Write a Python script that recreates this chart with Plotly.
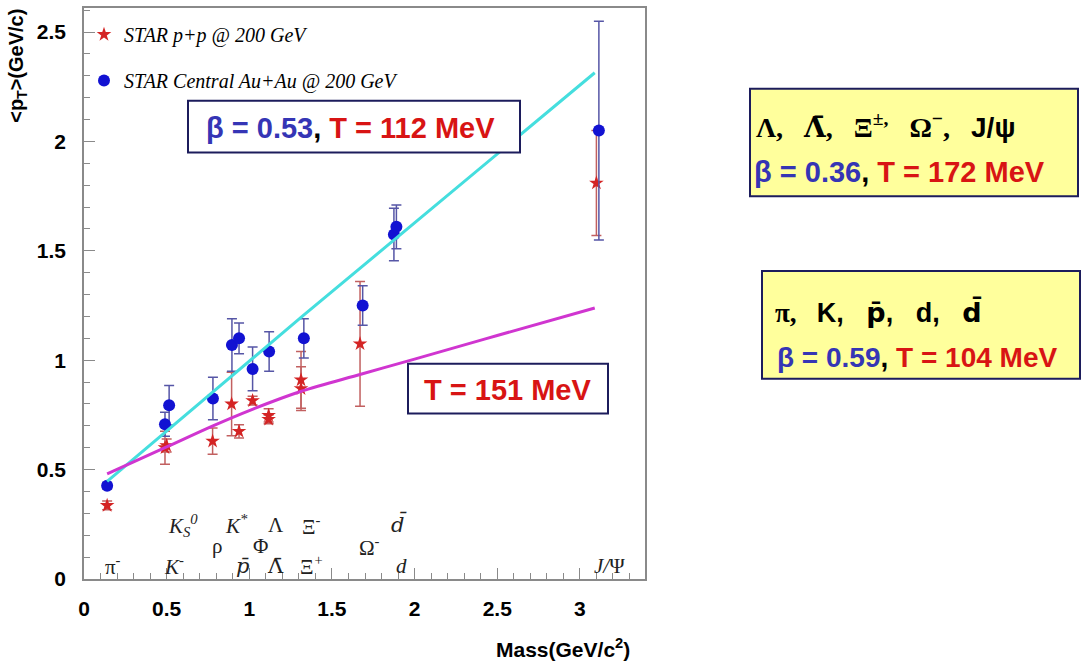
import plotly.graph_objects as go

# ---------------- data ----------------
# STAR central Au+Au @ 200 GeV  (blue dots)
aa_mass = [0.14, 0.49, 0.515, 0.78, 0.895, 0.938, 1.02, 1.12, 1.33, 1.686, 1.875, 1.89, 3.115]
aa_pt   = [0.426, 0.707, 0.794, 0.825, 1.07, 1.10, 0.96, 1.04, 1.10, 1.25, 1.575, 1.61, 2.05]
aa_err  = [0.015, 0.055, 0.09, 0.097, 0.12, 0.07, 0.10, 0.09, 0.09, 0.09, 0.12, 0.10, 0.50]

# STAR p+p @ 200 GeV  (red stars)
pp_mass = [0.14, 0.49, 0.50, 0.778, 0.893, 0.938, 1.02, 1.117, 1.117, 1.313, 1.313, 1.67, 3.10]
pp_pt   = [0.336, 0.60, 0.61, 0.63, 0.80, 0.675, 0.815, 0.748, 0.73, 0.91, 0.87, 1.075, 1.81]
pp_err  = [0.02, 0.075, 0.03, 0.06, 0.145, 0.03, 0.02, 0.03, 0.02, 0.13, 0.10, 0.285, 0.24]

# blast-wave curves
cyan_mass = [0.14, 1.32, 3.09]
cyan_pt   = [0.446, 1.20, 2.314]
mag_mass  = [0.14, 0.49, 0.78, 1.0, 1.31, 1.68, 2.0, 2.5, 3.09]
mag_pt    = [0.48, 0.60, 0.70, 0.77, 0.857, 0.937, 1.005, 1.113, 1.239]

# particle labels along the bottom (mass position, height, label)
UP = "<span style='font-style:normal'>{}</span>"
DJI = "<span style='font-family:DejaVu Serif'>{}</span>"
DJU = "<span style='font-family:DejaVu Serif;font-style:normal'>{}</span>"
lab_x    = [0.175, 0.545, 0.60, 0.805, 0.92, 0.96, 1.07, 1.16, 1.16, 1.375, 1.375, 1.725, 1.905, 1.92, 3.18]
lab_y    = [0.06, 0.06, 0.245, 0.15, 0.25, 0.06, 0.15, 0.245, 0.06, 0.245, 0.06, 0.15, 0.25, 0.06, 0.06]
lab_text = [UP.format("π") + "<sup>-</sup>", "K<sup>-</sup>", "K<sub>S</sub><sup>0</sup>", UP.format("ρ"),
            "K<sup>*</sup>", DJI.format("p\u0304"), UP.format("Φ"), UP.format("Λ"), DJU.format("Λ\u0304"),
            UP.format("Ξ") + "<sup>-</sup>", UP.format("Ξ") + "<sup>+</sup>", UP.format("Ω") + "<sup>-</sup>",
            DJI.format("d\u0304"), "d", "J/" + UP.format("Ψ")]

x_ticks = [0, 0.5, 1, 1.5, 2, 2.5, 3]
x_tick_text = ["0", "0.5", "1", "1.5", "2", "2.5", "3"]
y_ticks = [0, 0.5, 1, 1.5, 2, 2.5]
y_tick_text = ["0", "0.5", "1", "1.5", "2", "2.5"]

# ---------------- layout helpers ----------------
W, H = 1082, 664
L, R, T, B = 84, 645, 6, 579


def px(x):
    return (x - L) / (R - L)


def py(y):
    return (B - y) / (B - T)


BLUE_TXT = "#3535b5"
RED_TXT = "#d81414"
NAVY = "#1c1c5c"
AX = "#8a8a8a"

fig = go.Figure()

fig.add_trace(go.Scatter(
    x=pp_mass, y=pp_pt, mode="markers", name="STAR p+p @ 200 GeV", legendgroup="pp",
    marker=dict(symbol="star", size=11, color="#d42424"),
    error_y=dict(type="data", array=pp_err, color="#c26060", thickness=1.5, width=5)))
fig.add_trace(go.Scatter(
    x=aa_mass, y=aa_pt, mode="markers", name="STAR Central Au+Au @ 200 GeV", legendgroup="aa",
    marker=dict(symbol="circle", size=12, color="#1212d2"),
    error_y=dict(type="data", array=aa_err, color="#5656a6", thickness=1.5, width=5)))
fig.add_trace(go.Scatter(x=cyan_mass, y=cyan_pt, mode="lines", showlegend=False,
                         line=dict(color="#45dede", width=3)))
fig.add_trace(go.Scatter(x=mag_mass, y=mag_pt, mode="lines", showlegend=False,
                         line=dict(color="#d035d0", width=3, shape="spline")))

tickfont = dict(family="Liberation Sans", size=21, color="black", weight="bold")
fig.update_xaxes(range=[0, 3.394], tickmode="array", tickvals=x_ticks, ticktext=x_tick_text,
                 ticks="inside", ticklen=11, tickcolor=AX, tickwidth=1,
                 showline=True, linecolor=AX, linewidth=1.5, mirror=True,
                 showgrid=False, zeroline=False, tickfont=tickfont, ticklabelstandoff=10,
                 minor=dict(tick0=0, dtick=0.1, ticks="inside", ticklen=6, tickcolor=AX, showgrid=False))
fig.update_yaxes(range=[0, 2.61], tickmode="array", tickvals=y_ticks, ticktext=y_tick_text,
                 ticks="inside", ticklen=11, tickcolor=AX, tickwidth=1,
                 showline=True, linecolor=AX, linewidth=1.5, mirror=True,
                 showgrid=False, zeroline=False, tickfont=tickfont, ticklabelstandoff=12,
                 minor=dict(tick0=0, dtick=0.1, ticks="inside", ticklen=6, tickcolor=AX, showgrid=False))

shapes = [
    dict(type="rect", xref="paper", yref="paper", x0=px(188), x1=px(520), y0=py(151), y1=py(99),
         line=dict(color=NAVY, width=2), fillcolor="white", layer="above"),
    dict(type="rect", xref="paper", yref="paper", x0=px(408), x1=px(608), y0=py(413), y1=py(363),
         line=dict(color=NAVY, width=2), fillcolor="white", layer="above"),
    dict(type="rect", xref="paper", yref="paper", x0=px(750), x1=px(1078), y0=py(195), y1=py(87),
         line=dict(color=NAVY, width=2), fillcolor="#ffff9c", layer="above"),
    dict(type="rect", xref="paper", yref="paper", x0=px(762), x1=px(1080), y0=py(378), y1=py(270),
         line=dict(color=NAVY, width=2), fillcolor="#ffff9c", layer="above"),
]

big = dict(family="Liberation Sans", size=29, color="black", weight="bold")
annotations = []


def ann(text, x, y, font, xanchor="center", **kw):
    annotations.append(dict(text=text, xref="paper", yref="paper", x=px(x), y=py(y),
                            xanchor=xanchor, yanchor="middle", showarrow=False, font=font, **kw))


def bt(beta, temp):
    return (f"<span style='color:{BLUE_TXT}'>β = {beta}</span>, "
            f"<span style='color:{RED_TXT}'>T = {temp} MeV</span>")


ann(bt("0.53", "112"), 350, 126, big)
ann(f"<span style='color:{RED_TXT}'>T = 151 MeV</span>", 507, 389,
    dict(family="Liberation Sans", size=29, color="black", weight="bold"))
sp = "\u00a0\u00a0\u00a0"
ann("Λ," + sp + "<span style='font-family:DejaVu Serif'>Λ\u0304</span>," + sp + "Ξ<sup>±,</sup>" + sp
    + "Ω<sup>−</sup>," + sp + "<span style='font-family:Liberation Sans'>J/ψ</span>",
    754, 124, dict(family="Liberation Serif", size=28, color="black", weight="bold"), xanchor="left")
ann(bt("0.36", "172"), 752, 171, big, xanchor="left")
ann("π," + sp + "<span style='font-family:Liberation Sans'>K," + sp + "</span>"
    + "<span style='font-family:DejaVu Sans'>p\u0304</span>"
    + "<span style='font-family:Liberation Sans'>," + sp + "d," + sp + "</span>"
    + "<span style='font-family:DejaVu Sans'>d\u0304</span>",
    773, 311, dict(family="Liberation Serif", size=27, color="black", weight="bold"), xanchor="left")
ann(bt("0.59", "104"), 775, 357, dict(family="Liberation Sans", size=28, color="black", weight="bold"),
    xanchor="left")

# axis titles
ann("&lt;p<sub>T</sub>&gt;(GeV/c)", 18, 64,
    dict(family="Liberation Sans", size=20, color="black", weight="bold"), textangle=-90)
ann("Mass(GeV/c<sup>2</sup>)", 632, 648,
    dict(family="Liberation Sans", size=21, color="black", weight="bold"), xanchor="right")

# particle labels
for xv, yv, t in zip(lab_x, lab_y, lab_text):
    annotations.append(dict(text=t, x=xv, y=yv, xref="x", yref="y", showarrow=False,
                            xanchor="center", yanchor="middle",
                            font=dict(family="Liberation Serif", size=21, color="#222222", style="italic")))

fig.update_layout(
    width=W, height=H, paper_bgcolor="white", plot_bgcolor="white",
    margin=dict(l=L, r=W - R, t=T, b=H - B),
    shapes=shapes, annotations=annotations,
    showlegend=True,
    legend=dict(x=px(84), y=py(13), xanchor="left", yanchor="top", bgcolor="rgba(0,0,0,0)",
                borderwidth=0, traceorder="grouped", tracegroupgap=17, itemwidth=30,
                font=dict(family="Liberation Serif", size=20, color="black", style="italic")),
)

fig.write_html("out.html")
